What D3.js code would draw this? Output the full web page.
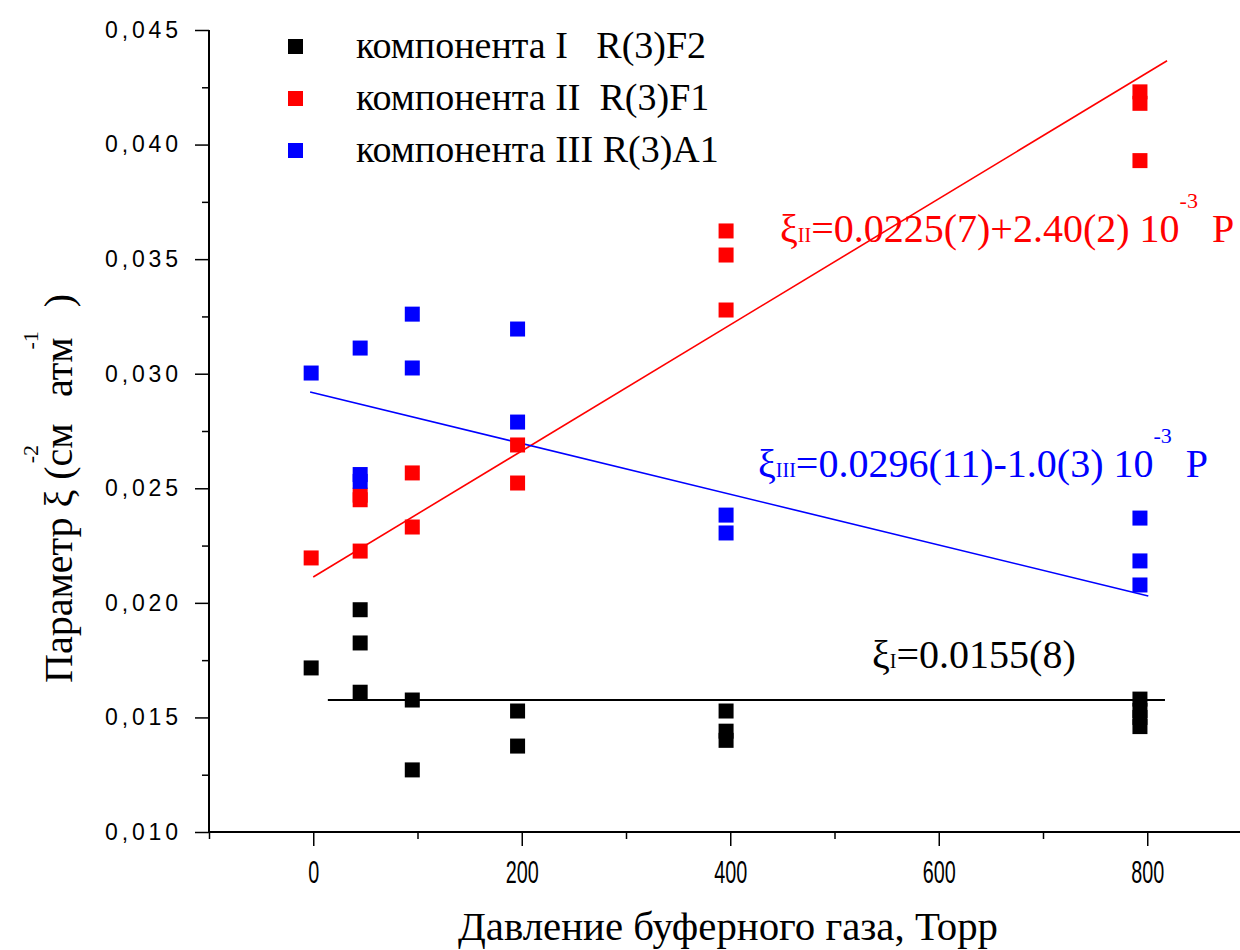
<!DOCTYPE html>
<html>
<head>
<meta charset="utf-8">
<script src="https://cdn.jsdelivr.net/npm/d3@7"></script>
<style>
  body { margin: 0; background: #fff; }
  svg { display: block; }
  .serif { font-family: "Liberation Serif", "Times New Roman", serif; }
</style>
</head>
<body>
<div class="canvas"></div>
<script>
// pressure (Torr) / parameter pairs
const compI = [[-2, 0.01716], [45, 0.0197], [45, 0.01825], [45, 0.0161], [95, 0.01576], [95, 0.01271],
    [196, 0.01528], [196, 0.01375], [396, 0.01528], [396, 0.0144], [396, 0.0140],
    [793, 0.0158], [793, 0.0153], [793, 0.0150], [793, 0.0146]];
const compII = [[-2, 0.02196], [45, 0.02226], [45, 0.0245], [45, 0.0247], [95, 0.02331], [95, 0.02567],
    [196, 0.02523], [196, 0.02689], [396, 0.03623], [396, 0.03518], [396, 0.03278],
    [793, 0.0423], [793, 0.0418], [793, 0.0393]];
const compIII = [[-2, 0.03003], [45, 0.03112], [45, 0.0256], [45, 0.0253], [95, 0.0326], [95, 0.03025],
    [196, 0.03195], [196, 0.02789], [396, 0.02383], [396, 0.02305],
    [793, 0.0237], [793, 0.02183], [793, 0.02078]];

// fitted lines (end points)
const fitI = [[14, 0.01576], [817, 0.01576]];
const fitII = [[0, 0.02113], [819, 0.04366]];
const fitIII = [[-3, 0.0292], [801, 0.0203]];

const legendLabels = ['компонента I   R(3)F2', 'компонента II  R(3)F1', 'компонента III R(3)A1'];
const colours = ['#000000', '#ff0000', '#0000ff'];
const xTicks = [0, 200, 400, 600, 800];
const xMinor = [-100, 100, 300, 500, 700, 900];
const yTicks = [0.010, 0.015, 0.020, 0.025, 0.030, 0.035, 0.040, 0.045];
const yMinor = [0.0125, 0.0175, 0.0225, 0.0275, 0.0325, 0.0375, 0.0425];

const dims = {width: 1240, height: 950};
const x = d3.scaleLinear().domain([-100, 900]).range([209, 1251.5]);
const y = d3.scaleLinear().domain([0.010, 0.045]).range([832, 30]);

const svg = d3.select('.canvas')
    .append('svg')
    .attr('width', dims.width)
    .attr('height', dims.height);

// axes
const xAxis = svg.append('g')
    .attr('transform', `translate(0, ${y(0.010)})`)
    .call(d3.axisBottom(x).tickValues(xTicks).tickSize(14).tickPadding(15).tickFormat(d3.format('d')));
svg.append('g')
    .attr('transform', `translate(0, ${y(0.010)})`)
    .call(d3.axisBottom(x).tickValues(xMinor).tickSize(7).tickFormat(''))
    .select('.domain').remove();

const yAxis = svg.append('g')
    .attr('transform', `translate(${x(-100)}, 0)`)
    .call(d3.axisLeft(y).tickValues(yTicks).tickSize(14).tickPadding(17)
        .tickFormat(d => d3.format('.3f')(d).replace('.', ',')));
svg.append('g')
    .attr('transform', `translate(${x(-100)}, 0)`)
    .call(d3.axisLeft(y).tickValues(yMinor).tickSize(7).tickFormat(''))
    .select('.domain').remove();

svg.selectAll('.domain').attr('stroke', '#000').attr('stroke-width', 2);
svg.selectAll('.tick line').attr('stroke', '#000').attr('stroke-width', 1.5);

// x axis line runs out to the page edge
xAxis.select('.domain').attr('d', `M${x(-100)},0H${dims.width}`);
yAxis.select('.domain').attr('d', `M0,${y(0.045)}V${y(0.010)}`);

xAxis.selectAll('text')
    .attr('font-family', '"Liberation Sans", Arial, sans-serif')
    .attr('font-size', 31)
    .attr('fill', '#000')
    .attr('textLength', d => String(d).length * 11)
    .attr('lengthAdjust', 'spacingAndGlyphs');

yAxis.selectAll('text')
    .attr('font-family', '"Liberation Sans", Arial, sans-serif')
    .attr('font-size', 23)
    .attr('fill', '#000')
    .attr('textLength', 73)
    .attr('lengthAdjust', 'spacing');

// fit lines
const line = d3.line().x(d => x(d[0])).y(d => y(d[1]));
[[fitI, 2], [fitII, 1.6], [fitIII, 1.6]].forEach(([pts, w], i) => {
    svg.append('path')
        .attr('d', line(pts))
        .attr('fill', 'none')
        .attr('stroke', colours[i])
        .attr('stroke-width', w);
});

// points
const sq = 15;
[compI, compII, compIII].forEach((pts, i) => {
    svg.append('g').selectAll('rect')
        .data(pts)
        .enter().append('rect')
        .attr('x', d => x(d[0]) - sq / 2)
        .attr('y', d => y(d[1]) - sq / 2)
        .attr('width', sq)
        .attr('height', sq)
        .attr('fill', colours[i]);
});

// legend
const legend = svg.append('g').attr('class', 'serif');
legendLabels.forEach((lab, i) => {
    legend.append('rect')
        .attr('x', 288).attr('y', 39 + i * 52)
        .attr('width', 15).attr('height', 15)
        .attr('fill', colours[i]);
    legend.append('text')
        .attr('x', 356).attr('y', 58 + i * 52)
        .attr('font-size', 38)
        .attr('fill', '#000')
        .attr('xml:space', 'preserve')
        .style('white-space', 'pre')
        .text(lab);
});

// equations
const eq = (xp, yp, col, sub, body, withP) => {
    const t = svg.append('text')
        .attr('class', 'serif')
        .attr('x', xp).attr('y', yp)
        .attr('font-size', 40)
        .attr('fill', col);
    t.append('tspan').text('ξ');
    t.append('tspan').attr('font-size', 20).text(sub);
    t.append('tspan').text(body);
    if (withP) {
        t.append('tspan').attr('font-size', 22).attr('dy', -34).text('-3');
        t.append('tspan').attr('dy', 34).attr('dx', 14).text('P');
    }
};
eq(780, 242, colours[1], 'II', '=0.0225(7)+2.40(2) 10', true);
eq(758, 477, colours[2], 'III', '=0.0296(11)-1.0(3) 10', true);
eq(872, 668, colours[0], 'I', '=0.0155(8)', false);

// axis titles
svg.append('text')
    .attr('class', 'serif')
    .attr('x', 728).attr('y', 940)
    .attr('text-anchor', 'middle')
    .attr('font-size', 40)
    .attr('textLength', 540)
    .attr('lengthAdjust', 'spacingAndGlyphs')
    .text('Давление буферного газа, Торр');

const yTitle = svg.append('g')
    .attr('class', 'serif')
    .attr('transform', 'translate(72, 683) rotate(-90)');
const yt = yTitle.append('text')
    .attr('x', 0).attr('y', 0)
    .attr('font-size', 40)
    .attr('xml:space', 'preserve')
    .style('white-space', 'pre');
yt.append('tspan').text('Параметр ξ (см');
yt.append('tspan').attr('font-size', 22).attr('dy', -34).attr('dx', -40).text('-2');
yt.append('tspan').attr('dy', 34).attr('dx', 38).text(' атм');
yt.append('tspan').attr('font-size', 22).attr('dy', -34).attr('dx', -12).text('-1');
yt.append('tspan').attr('dy', 34).attr('dx', 14).text(' )');
</script>
</body>
</html>
